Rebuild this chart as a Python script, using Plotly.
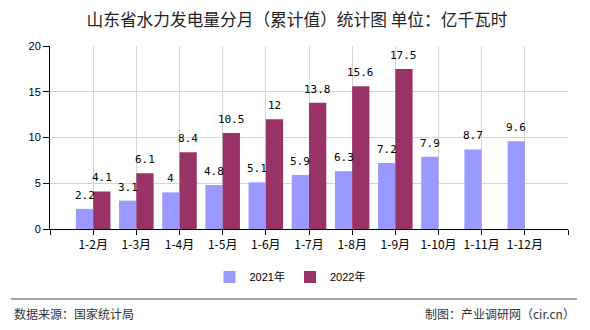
import plotly.graph_objects as go

# Cumulative monthly hydropower generation in Shandong (100 million kWh)
categories = ["1-2月", "1-3月", "1-4月", "1-5月", "1-6月", "1-7月",
              "1-8月", "1-9月", "1-10月", "1-11月", "1-12月"]
values_2021 = [2.2, 3.1, 4, 4.8, 5.1, 5.9, 6.3, 7.2, 7.9, 8.7, 9.6]
values_2022 = [4.1, 6.1, 8.4, 10.5, 12, 13.8, 15.6, 17.5, None, None, None]
series_names = ["2021年", "2022年"]
series_colors = ["#9999FF", "#993366"]
y_ticks = [0, 5, 10, 15, 20]

x_pos = list(range(len(categories)))

W, H = 590, 330
L, R, T, B = 50, 22, 46, 101
plot_h = H - T - B
BAR_GAP = 0.2
bar_w = (1 - BAR_GAP) / 2


def py(pixel_y):
    """Convert a pixel row to a paper y coordinate."""
    return (H - B - pixel_y) / plot_h


def px(pixel_x):
    return (pixel_x - L) / (W - L - R)


fig = go.Figure()
value_labels = []
for i, (name, vals, color) in enumerate(zip(series_names, [values_2021, values_2022], series_colors)):
    fig.add_trace(go.Bar(
        x=x_pos, y=vals, name=name,
        marker=dict(color=color, line=dict(width=0)),
        cliponaxis=False,
    ))
    offset = (i - 0.5) * bar_w
    for xv, v in zip(x_pos, vals):
        if v is None:
            continue
        value_labels.append(dict(
            x=xv + offset, y=v, xref="x", yref="y",
            text=f"{v:g}", showarrow=False,
            xanchor="center", yanchor="bottom", yshift=5,
            font=dict(family="DejaVu Sans Mono", size=11, color="#000000"),
        ))

tick_vals = list(range(-1, len(categories) + 1))
tick_text = [""] + categories + [""]

fig.update_layout(
    width=W, height=H,
    margin=dict(l=L, r=R, t=T, b=B, autoexpand=False),
    paper_bgcolor="#FFFFFF", plot_bgcolor="#FFFFFF",
    barmode="group", bargap=BAR_GAP, bargroupgap=0,
    title=dict(
        text="山东省水力发电量分月（累计值）统计图 单位：亿千瓦时",
        x=297 / W, xanchor="center", y=1 - 20 / H, yanchor="middle",
        font=dict(family="Noto Sans CJK SC", size=16.7, color="#222222"),
    ),
    xaxis=dict(
        range=[-1, len(categories)],
        tickvals=tick_vals, ticktext=tick_text, tickangle=0,
        showgrid=True, gridcolor="#D4D4D4", gridwidth=1,
        showline=True, linecolor="#000000", linewidth=1,
        ticks="outside", ticklen=5, tickcolor="#000000",
        tickfont=dict(family="Noto Sans CJK SC", size=12, color="#000000"),
        zeroline=False, fixedrange=True,
    ),
    yaxis=dict(
        range=[0, 20], tickvals=y_ticks,
        showgrid=True, gridcolor="#D4D4D4", gridwidth=1,
        showline=True, linecolor="#000000", linewidth=1,
        ticks="outside", ticklen=6, tickcolor="#000000",
        tickfont=dict(family="Liberation Sans", size=11, color="#000000"),
        zeroline=False, fixedrange=True,
    ),
    legend=dict(
        orientation="h", x=px(290), xanchor="center",
        y=py(277), yanchor="middle",
        font=dict(family="Liberation Sans, Noto Sans CJK SC", size=11, color="#000000"),
        itemwidth=30, bgcolor="rgba(0,0,0,0)",
    ),
    shapes=[dict(
        type="line", xref="paper", yref="paper",
        x0=px(11), x1=px(577), y0=py(299), y1=py(299),
        line=dict(color="#888888", width=1.5),
    )],
    annotations=value_labels + [
        dict(text="数据来源：国家统计局", xref="paper", yref="paper",
             x=px(12), y=py(313), xanchor="left", yanchor="middle", showarrow=False,
             font=dict(family="Noto Sans CJK SC", size=12, color="#333333")),
        dict(text="制图：产业调研网（cir.cn）", xref="paper", yref="paper",
             x=px(577), y=py(313), xanchor="right", yanchor="middle", showarrow=False,
             font=dict(family="Noto Sans CJK SC", size=12, color="#333333")),
    ],
    showlegend=True,
)

fig.write_html("out.html")
